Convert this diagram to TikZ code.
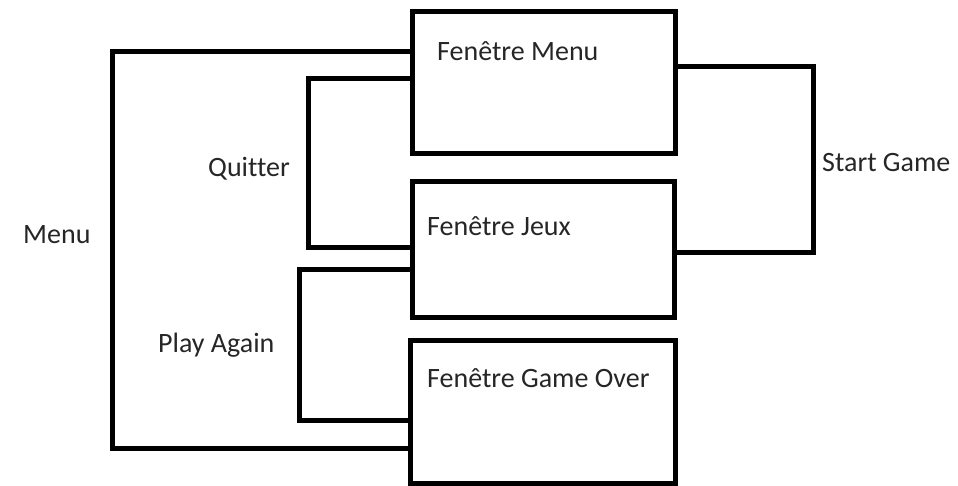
\documentclass[tikz,border=0pt]{standalone}
\usepackage{fontspec}
\setmainfont{Carlito}[Ligatures={NoCommon}]
\begin{document}
\begin{tikzpicture}[x=1pt,y=-1pt,
  win/.style={draw=black,line width=5pt,inner sep=0pt,outer sep=0pt},
  wire/.style={draw=black,line width=5pt,line join=miter},
  lbl/.style={anchor=base west,inner sep=0pt,font=\fontsize{28}{30}\selectfont,text=black!85}]
\useasboundingbox[fill=white] (0,0) rectangle (958,486);
% windows
\node[win,minimum width=263pt,minimum height=142pt] (menu) at (543.5,83) {};
\node[win,minimum width=262pt,minimum height=135pt] (jeux) at (543,249.5) {};
\node[win,minimum width=265pt,minimum height=143pt] (over) at (542.5,411.5) {};
% window titles
\node[lbl] (tmenu) at (437,61) {Fenêtre Menu};
\node[lbl] (tjeux) at (427,236) {Fenêtre Jeux};
\node[lbl] (tover) at (427,387) {Fenêtre Game Over};
% connectors
\draw[wire] (menu.west |- 0,52) -- (112,52) -- (112,448) -- (over.west |- 0,448);
\draw[wire] (menu.west |- 0,79) -- (308,79) -- (308,248) -- (jeux.west |- 0,248);
\draw[wire] (jeux.west |- 0,270) -- (299,270) -- (299,420) -- (over.west |- 0,420);
\draw[wire] (menu.east |- 0,67) -- (813,67) -- (813,253) -- (jeux.east |- 0,253);
% connector labels
\node[lbl] (lquit) at (208,177) {Quitter};
\node[lbl] (lmenu) at (23,244) {Menu};
\node[lbl] (lplay) at (158,352) {Play Again};
\node[lbl] (lstart) at (822,172) {Start Game};
\end{tikzpicture}
\end{document}
